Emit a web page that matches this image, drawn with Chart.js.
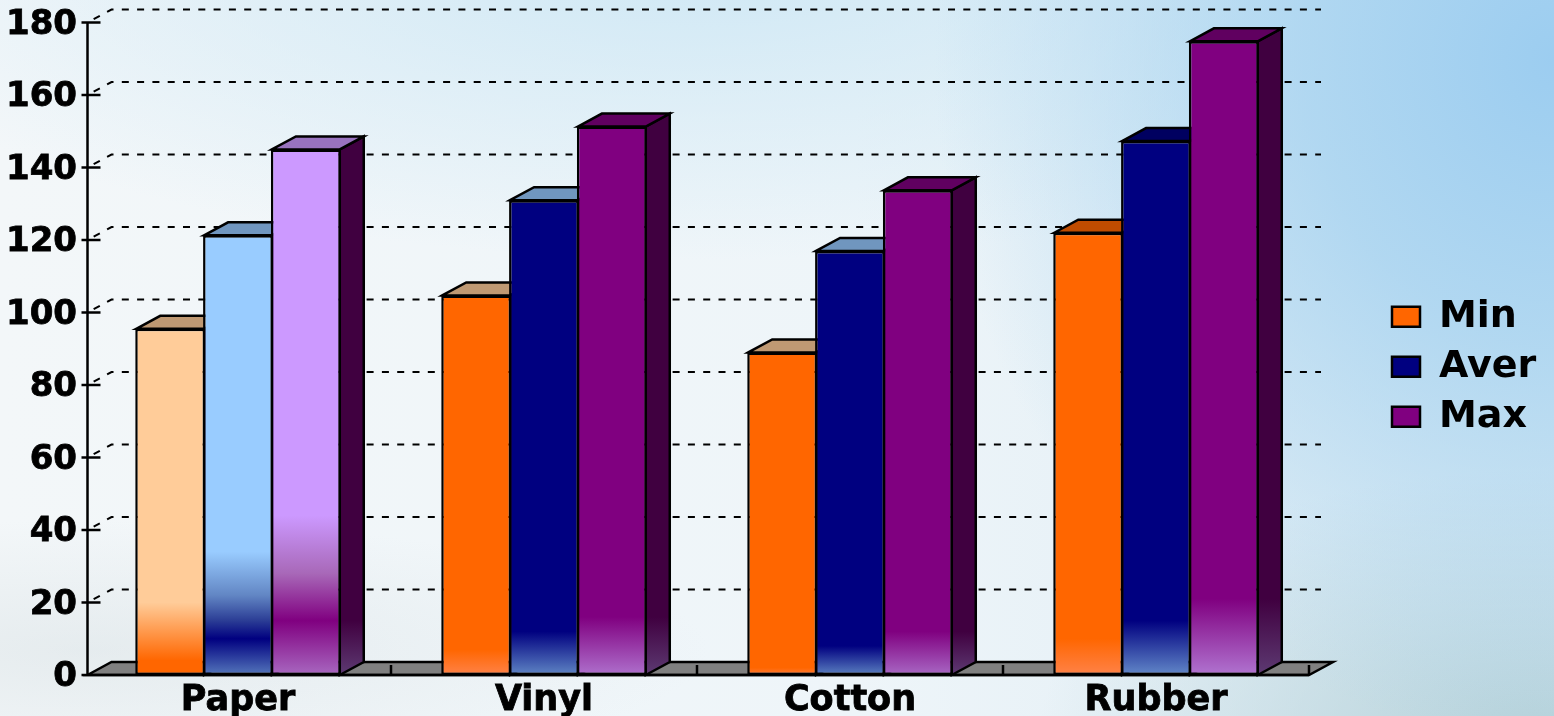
<!DOCTYPE html>
<html>
<head>
<meta charset="utf-8">
<title>Min / Aver / Max</title>
<script src="https://cdn.jsdelivr.net/npm/chart.js@4"></script>
<style>
  html, body { margin: 0; padding: 0; width: 1554px; height: 716px; overflow: hidden; }
  body {
    background:
      radial-gradient(ellipse 620px 130px at 90px 650px, rgba(205,215,218,0.35) 0%, rgba(205,215,218,0) 100%),
      radial-gradient(ellipse 620px 680px at 1554px 60px, #9ccdf0 0%, rgba(165,210,240,0.8) 40%, rgba(190,225,240,0) 100%),
      radial-gradient(ellipse 900px 300px at 700px -40px, #cfe8f5 0%, rgba(207,232,245,0) 100%),
      radial-gradient(ellipse 500px 260px at 1540px 730px, #b6d2da 0%, rgba(188,215,222,0) 100%),
      linear-gradient(90deg, #f3f7f9 0%, #eef5f9 55%, #dcebf3 100%);
  }
  #wrap { position: relative; width: 1554px; height: 716px; }
</style>
</head>
<body>
<div id="wrap"><canvas id="chart"></canvas></div>
<script>
const categories = ["Paper", "Vinyl", "Cotton", "Rubber"];
const seriesNames = ["Min", "Aver", "Max"];
const minValues = [95.5, 104.7, 89, 122];
const averValues = [121.3, 131, 117, 147.3];
const maxValues = [145, 151.3, 133.7, 174.8];
const yTicks = [0, 20, 40, 60, 80, 100, 120, 140, 160, 180];

const seriesColors = ["#ff6600", "#000080", "#800080"];
const topColors = [
  ["#bf9973", "#7096bf", "#9973bf"],
  ["#bf9973", "#7096bf", "#600060"],
  ["#bf9973", "#7096bf", "#600060"],
  ["#bf4c00", "#000060", "#600060"],
];
// gradient stops for the lower part of each bar: [axis value, colour]
const fills = [
  [
    [[20, "#ffcc99"], [4, "#ff6600"], [0, "#ff6600"]],
    [[34, "#99ccff"], [22, "#6286c4"], [15, "#2b3d95"], [10, "#000080"], [0, "#5577bb"]],
    [[44, "#cc99ff"], [28, "#a868b8"], [15, "#800080"], [0, "#a868c0"]],
  ],
  [
    [[7, "#ff6600"], [0, "#ff8248"]],
    [[12, "#000080"], [0, "#5f85c4"]],
    [[16, "#800080"], [0, "#ae70cc"]],
  ],
  [
    [[2, "#ff6600"], [0, "#ff7a38"]],
    [[8, "#000080"], [0, "#5b80c0"]],
    [[12, "#800080"], [0, "#a868c4"]],
  ],
  [
    [[10, "#ff6600"], [0, "#ff8248"]],
    [[15, "#000080"], [0, "#6288c8"]],
    [[21, "#800080"], [0, "#b074d0"]],
  ],
];
const sideFade = [15, 16, 12, 21];

const depthX = 24;
const depthY = 13;

function gradientFor(chart, stops) {
  const y = chart.scales.y;
  const base = y.getPixelForValue(0);
  const top = y.getPixelForValue(180);
  const g = chart.ctx.createLinearGradient(0, top, 0, base);
  g.addColorStop(0, stops[0][1]);
  stops.forEach((s) => {
    g.addColorStop((y.getPixelForValue(s[0]) - top) / (base - top), s[1]);
  });
  return g;
}

function barFill(ctx) {
  if (ctx.type !== "data" || !ctx.chart.scales.y) return seriesColors[ctx.datasetIndex];
  return gradientFor(ctx.chart, fills[ctx.dataIndex][ctx.datasetIndex]);
}

function polygon(ctx, pts, fill) {
  ctx.beginPath();
  pts.forEach((p, i) => (i ? ctx.lineTo(p[0], p[1]) : ctx.moveTo(p[0], p[1])));
  ctx.closePath();
  ctx.fillStyle = fill;
  ctx.fill();
  ctx.stroke();
}

// grid on the back wall, floor and the top/side faces of the bars
const depthPlugin = {
  id: "depth",
  afterLayout(chart) {
    chart.legend.left = 1380;
    chart.legend.top = 17.5;
  },
  beforeDatasetsDraw(chart) {
    const { ctx, scales } = chart;
    const x = scales.x;
    const y = scales.y;
    const y0 = y.getPixelForValue(0);
    const axisX = x.left + 2.5;

    ctx.save();
    ctx.strokeStyle = "#000";
    ctx.lineWidth = 2.5;

    // floor
    ctx.fillStyle = "#808080";
    ctx.beginPath();
    ctx.moveTo(axisX, y0);
    ctx.lineTo(axisX + depthX, y0 - depthY);
    ctx.lineTo(x.right + depthX, y0 - depthY);
    ctx.lineTo(x.right, y0);
    ctx.closePath();
    ctx.fill();
    ctx.stroke();
    categories.forEach((c, i) => {
      const tx = x.getPixelForValue(i + 0.5);
      ctx.beginPath();
      ctx.moveTo(tx, y0);
      ctx.lineTo(tx, y0 - 10);
      ctx.stroke();
    });

    // dashed grid running up the side wall and along the back wall
    yTicks.forEach((v) => {
      if (v === 0) return;
      const py = y.getPixelForValue(v);
      ctx.lineWidth = 2;
      ctx.setLineDash([7, 8.3]);
      ctx.lineDashOffset = 8.3;
      ctx.beginPath();
      ctx.moveTo(axisX, py);
      ctx.lineTo(axisX + depthX, py - depthY);
      ctx.lineTo(x.right + 12, py - depthY);
      ctx.stroke();
      ctx.setLineDash([]);
      ctx.lineWidth = 2.5;
      ctx.beginPath();
      ctx.moveTo(axisX - 6, py);
      ctx.lineTo(axisX + 13, py);
      ctx.stroke();
    });

    // y axis and base line
    ctx.beginPath();
    ctx.moveTo(axisX, y.getPixelForValue(180));
    ctx.lineTo(axisX, y0);
    ctx.moveTo(axisX - 6, y0);
    ctx.lineTo(x.right, y0);
    ctx.stroke();

    // top and side faces
    chart.data.datasets.forEach((ds, d) => {
      chart.getDatasetMeta(d).data.forEach((bar, i) => {
        const left = bar.x - bar.width / 2 + 1;
        const right = bar.x + bar.width / 2 - 1;
        const side = gradientFor(chart, [[sideFade[i], "#400040"], [0, "#5d3a72"]]);
        polygon(ctx, [[right, bar.y], [right + depthX, bar.y - depthY], [right + depthX, y0 - depthY], [right, y0]], side);
        polygon(ctx, [[left, bar.y], [left + depthX, bar.y - depthY], [right + depthX, bar.y - depthY], [right, bar.y]], topColors[i][d]);
      });
    });
    ctx.restore();
  },
};

const barStyle = {
  backgroundColor: barFill,
  borderColor: "#000",
  borderWidth: 2.5,
  borderSkipped: false,
  categoryPercentage: 0.665,
  barPercentage: 1.03,
};

const chart = new Chart(document.getElementById("chart"), {
  type: "bar",
  data: {
    labels: categories,
    datasets: [
      { label: seriesNames[0], data: minValues, ...barStyle },
      { label: seriesNames[1], data: averValues, ...barStyle },
      { label: seriesNames[2], data: maxValues, ...barStyle },
    ],
  },
  options: {
    responsive: true,
    maintainAspectRatio: false,
    animation: false,
    layout: { padding: { top: 22.5, left: 0, right: 0, bottom: 0 } },
    scales: {
      x: {
        grid: { display: false, drawTicks: false, tickLength: 0 },
        border: { display: false },
        ticks: {
          color: "#000",
          padding: 5,
          maxRotation: 0,
          textStrokeColor: "#000",
          textStrokeWidth: 0.8,
          font: { family: "DejaVu Sans", weight: "bold", size: 35 },
        },
        afterFit: (s) => { s.height = 41; s.paddingLeft = 0; s.paddingRight = 0; },
      },
      y: {
        min: 0,
        max: 180,
        grid: { display: false, drawTicks: false, tickLength: 0 },
        border: { display: false },
        afterBuildTicks: (s) => { s.ticks = yTicks.map((v) => ({ value: v })); },
        ticks: {
          color: "#000",
          padding: 8,
          labelOffset: 2.5,
          textStrokeColor: "#000",
          textStrokeWidth: 0.8,
          font: { family: "DejaVu Sans", weight: "bold", size: 34 },
        },
        afterFit: (s) => { s.width = 85; s.paddingTop = 0; s.paddingBottom = 0; },
      },
    },
    plugins: {
      tooltip: { enabled: false },
      legend: {
        position: "right",
        labels: {
          color: "#000",
          boxWidth: 28,
          boxHeight: 20,
          padding: 12,
          font: { family: "DejaVu Sans", weight: "bold", size: 38 },
          generateLabels: () => seriesNames.map((name, i) => ({
            text: name,
            fillStyle: seriesColors[i],
            strokeStyle: "#000",
            lineWidth: 2.5,
            datasetIndex: i,
          })),
        },
      },
    },
  },
  plugins: [
    {
      id: "legendWidth",
      beforeLayout(chart) {
        if (chart.legend.wide) return;
        const fit = chart.legend.fit;
        chart.legend.fit = function () {
          fit.call(this);
          this.width = 245;
        };
        chart.legend.wide = true;
      },
    },
    depthPlugin,
  ],
});
</script>
</body>
</html>
